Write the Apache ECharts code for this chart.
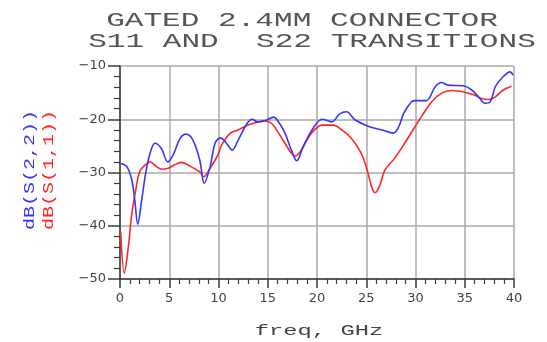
<!DOCTYPE html>
<html><head><meta charset="utf-8">
<script src="https://cdn.jsdelivr.net/npm/echarts@6/dist/echarts.min.js"></script>
<style>html,body{margin:0;padding:0;background:#fff}#c{width:547px;height:342px}</style>
</head><body><div id="c"></div>
<script>
const titleLines = ['GATED 2.4MM CONNECTOR', 'S11 AND  S22 TRANSITIONS'];
const xName = 'freq, GHz';
const yNameS22 = 'dB(S(2,2))';
const yNameS11 = 'dB(S(1,1))';
const xTicks = [0, 5, 10, 15, 20, 25, 30, 35, 40];
const yTicks = [-50, -40, -30, -20, -10];

const freqS11 = [0.07,0.44,0.85,1.2,1.6,2.0,2.55,3.05,3.7,4.25,4.9,5.5,6.2,7.2,8.1,8.5,9.15,9.65,10.0,10.3,11.2,12.0,13.0,14.0,14.7,15.4,16.1,16.75,17.4,17.8,18.4,19.45,20.5,21.65,22.5,23.5,24.4,25.0,25.55,25.9,26.4,26.9,27.9,28.9,29.95,30.6,31.65,32.65,33.7,34.7,35.9,36.7,37.4,38.1,38.9,39.75];
const dbS11 = [-41.1,-48.9,-43.9,-37.7,-33.3,-29.8,-28.6,-28.0,-28.9,-29.4,-29.2,-28.6,-28.1,-28.9,-29.9,-30.8,-29.2,-27.7,-26.4,-24.9,-22.6,-22.0,-21.1,-20.5,-20.3,-20.8,-22.6,-24.5,-26.4,-26.9,-25.8,-22.6,-21.1,-21.1,-22.0,-23.6,-26.1,-28.9,-32.7,-33.8,-32.3,-29.5,-27.3,-24.5,-21.4,-19.5,-16.7,-15.1,-14.6,-14.8,-15.4,-16.1,-16.3,-15.8,-14.5,-13.8];

const freqS22 = [0.1,0.7,1.2,1.5,1.8,2.2,2.6,3.05,3.55,4.2,4.85,5.4,6.1,6.7,7.4,8.1,8.55,9.15,9.65,10.2,10.8,11.4,12.0,12.9,13.4,14.0,14.7,15.6,16.1,16.75,17.4,17.95,18.6,19.3,19.95,20.5,21.5,22.3,23.0,23.85,25.2,26.6,27.75,28.3,28.8,29.6,30.0,31.1,32.0,32.65,33.3,34.85,35.7,36.4,37.05,37.6,38.1,38.75,39.6,39.9];
const dbS22 = [-28.3,-28.9,-31.4,-35.2,-39.7,-35.2,-30.2,-26.4,-24.5,-25.5,-28.0,-26.7,-23.6,-22.8,-23.9,-27.7,-32.0,-28.9,-24.5,-23.5,-24.5,-25.8,-23.9,-20.8,-20.0,-20.5,-20.3,-19.6,-20.5,-22.6,-25.8,-27.8,-25.1,-22.6,-20.8,-20.0,-20.5,-19.0,-18.6,-20.1,-21.3,-22.0,-22.6,-21.4,-18.9,-16.7,-16.5,-16.5,-13.9,-13.1,-13.6,-13.7,-14.5,-15.8,-17.0,-16.7,-13.9,-12.3,-11.1,-11.7];

const pairs = (xs, ys) => xs.map((x, i) => [x, ys[i]]);
const chart = echarts.init(document.getElementById('c'), null, {renderer: 'canvas'});
const axisColor = '#3a3a3a';
const gridColor = '#aaaaaa';
const monoText = (text, x, y, size, scaleX, fill, rotation) => ({
  type: 'text', x: x, y: y, scaleX: scaleX, rotation: rotation || 0, silent: true,
  style: {text: text, fontFamily: 'Liberation Mono', fontSize: size, fill: fill,
    align: 'center', verticalAlign: 'middle', textAlign: 'center', textVerticalAlign: 'middle'}
});
chart.setOption({
  animation: false,
  backgroundColor: '#fff',
  grid: {left: 120, right: 33, top: 66, bottom: 63, containLabel: false},
  xAxis: {
    type: 'value', min: xTicks[0], max: xTicks[xTicks.length - 1], interval: 5,
    axisLine: {show: true, onZero: false, lineStyle: {color: axisColor, width: 1.5}},
    axisTick: {show: true, inside: false, length: 9, lineStyle: {color: axisColor, width: 1.5}},
    minorTick: {show: true, splitNumber: 5, length: 5, lineStyle: {color: axisColor, width: 1.2}},
    splitLine: {show: true, lineStyle: {color: gridColor, width: 1.5}},
    axisLabel: {margin: 13, color: '#444', fontFamily: 'DejaVu Sans', fontSize: 13}
  },
  yAxis: {
    type: 'value', min: yTicks[0], max: yTicks[yTicks.length - 1], interval: 10,
    axisLine: {show: true, onZero: false, lineStyle: {color: axisColor, width: 1.5}},
    axisTick: {show: true, inside: false, length: 12, lineStyle: {color: axisColor, width: 1.5}},
    minorTick: {show: true, splitNumber: 5, length: 6, lineStyle: {color: axisColor, width: 1.2}},
    splitLine: {show: true, lineStyle: {color: gridColor, width: 1.5}},
    axisLabel: {margin: 14, color: '#444', fontFamily: 'DejaVu Sans', fontSize: 13,
      formatter: v => (v < 0 ? '\u2212' : '') + Math.abs(v)}
  },
  series: [
    {type: 'line', name: yNameS11, data: pairs(freqS11, dbS11), showSymbol: false, smooth: 0.35,
      lineStyle: {color: '#ff2626', width: 1.6}, itemStyle: {color: '#ff2626'}},
    {type: 'line', name: yNameS22, data: pairs(freqS22, dbS22), showSymbol: false, smooth: 0.35,
      lineStyle: {color: '#3535ff', width: 1.6}, itemStyle: {color: '#3535ff'}}
  ],
  graphic: [
    monoText(titleLines[0], 302, 20, 21, 1.48, '#555'),
    monoText(titleLines[1], 312, 41, 21, 1.48, '#555'),
    monoText(xName, 319, 331, 14, 1.7, '#444'),
    monoText(yNameS22, 30, 170, 14, 1.43, '#3535ff', Math.PI / 2),
    monoText(yNameS11, 49, 170, 14, 1.43, '#ff2626', Math.PI / 2)
  ]
});
</script>
</body></html>
